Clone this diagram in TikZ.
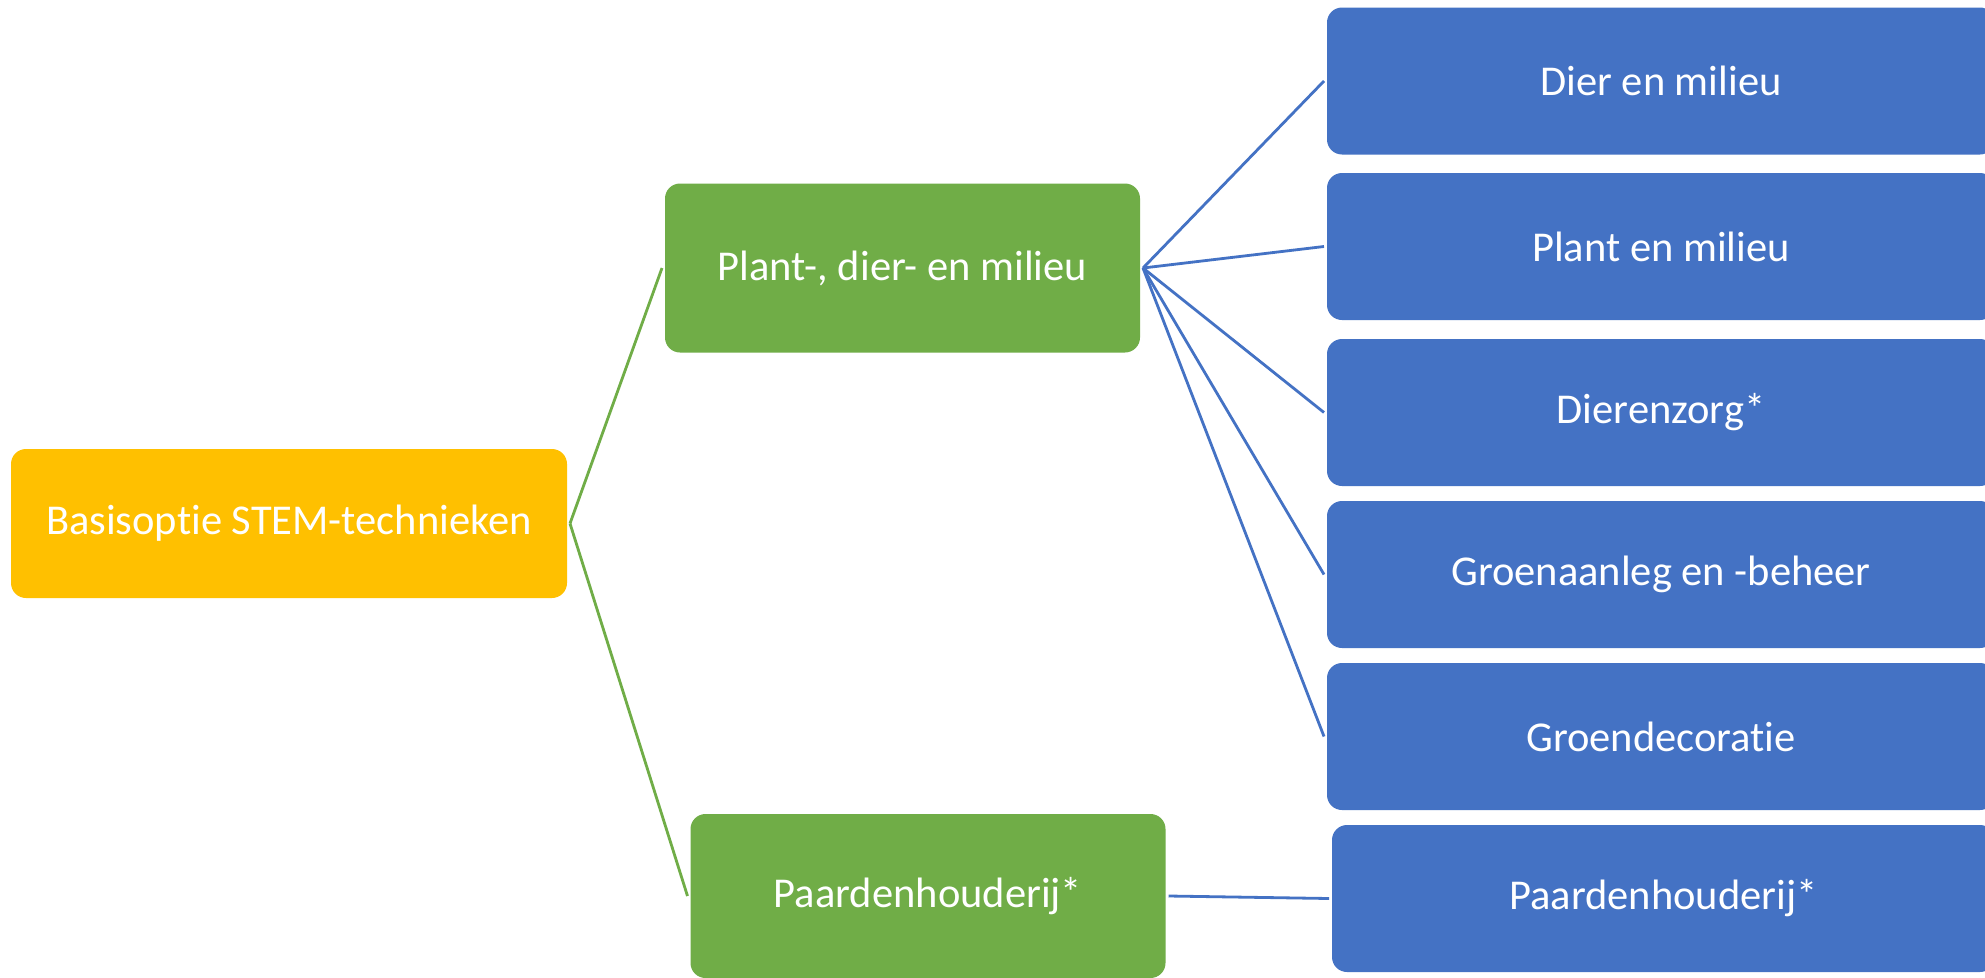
\documentclass[tikz,border=0pt]{standalone}
\usepackage{fontspec}
\setmainfont{Carlito}[Ligatures={NoCommon}]
\definecolor{cyel}{HTML}{FFC000}
\definecolor{cgrn}{HTML}{70AD47}
\definecolor{cblu}{HTML}{4472C4}
\begin{document}
\begin{tikzpicture}[x=1pt,y=-1pt,
  box/.style={rectangle,rounded corners=15pt,text=white,inner sep=0pt,outer sep=3pt,
    font=\fontsize{42.5}{50}\selectfont},
  ybox/.style={box,fill=cyel,minimum width=556pt,minimum height=149pt},
  gbox/.style={box,fill=cgrn,minimum width=475pt,minimum height=166pt},
  bbox/.style={box,fill=cblu,minimum width=668pt,minimum height=147pt},
  gline/.style={draw=cgrn,line width=2.8pt},
  bline/.style={draw=cblu,line width=2.8pt}]
\clip (0,0) rectangle (1985,977);
\fill[white] (0,0) rectangle (1985,977);
\node[ybox] (yel) at (289,523.5) {Basisoptie STEM-technieken};
\node[gbox,minimum height=169pt] (g1) at (902.5,268) {Plant-, dier- en milieu};
\node[gbox,minimum height=164pt] (g2) at (928,896) {Paardenhouderij*};
\node[bbox] (b1) at (1661,81) {Dier en milieu};
\node[bbox] (b2) at (1661,246.5) {Plant en milieu};
\node[bbox] (b3) at (1661,412.5) {Dierenzorg*};
\node[bbox] (b4) at (1661,574.5) {Groenaanleg en -beheer};
\node[bbox] (b5) at (1661,736.5) {Groendecoratie};
\node[bbox,minimum width=663pt] (b6) at (1663.5,898.5) {Paardenhouderij*};
\draw[gline] (yel.east) -- (g1.west);
\draw[gline] (yel.east) -- (g2.west);
\foreach \b in {b1,b2,b3,b4,b5}{\draw[bline] (g1.east) -- (\b.west);}
\draw[bline] (g2.east) -- (b6.west);
\end{tikzpicture}
\end{document}
